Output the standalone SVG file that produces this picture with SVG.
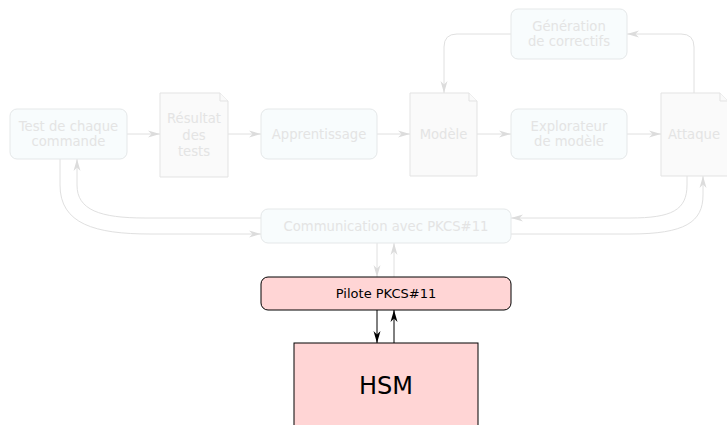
<svg xmlns="http://www.w3.org/2000/svg" width="727" height="425" viewBox="0 0 727 425">
  <style>
    text { font-family: "DejaVu Sans", "Liberation Sans", sans-serif; text-anchor: middle; }
    .faded { fill: #f8fcfd; stroke: #e5e8e9; stroke-width: 1; }
    .doc { fill: #fafafa; stroke: #e3e3e3; stroke-width: 1; }
    .ftext { font-size: 13.2px; fill: #e4e4e4; }
    .fline { fill: none; stroke: #e0e0e0; stroke-width: 1; }
    .active { fill: #ffd5d5; stroke: #000; stroke-width: 1; }
    .atext { fill: #000; }
    .aline { fill: none; stroke: #000; stroke-width: 1; }
  </style>
  <defs>
    <marker id="arrowFaded" viewBox="0 0 12 8" refX="12" refY="4" markerWidth="12" markerHeight="8" markerUnits="userSpaceOnUse" orient="auto">
      <path d="M0,0.5 L12,4 L0,7.5 L3.5,4 z" fill="#dcdcdc"/>
    </marker>
    <marker id="arrowDark" viewBox="0 0 12 8" refX="12" refY="4" markerWidth="12" markerHeight="8" markerUnits="userSpaceOnUse" orient="auto">
      <path d="M0,0.5 L12,4 L0,7.5 L3.5,4 z" fill="#000"/>
    </marker>
  </defs>

  <!-- connectors -->
  <g id="connectors">
    <path class="fline" marker-end="url(#arrowFaded)" d="M127,134 H160"/>
    <path class="fline" marker-end="url(#arrowFaded)" d="M228,134 H261"/>
    <path class="fline" marker-end="url(#arrowFaded)" d="M377,134 H410"/>
    <path class="fline" marker-end="url(#arrowFaded)" d="M477,134 H511"/>
    <path class="fline" marker-end="url(#arrowFaded)" d="M627,134 H661"/>
    <path class="fline" marker-end="url(#arrowFaded)" d="M511,34 H457 Q444,34 444,47 V93"/>
    <path class="fline" marker-end="url(#arrowFaded)" d="M694,93 V47 Q694,34 681,34 H627"/>
    <path class="fline" marker-end="url(#arrowFaded)" d="M60,159 V185 C60,224 95,234 150,234 H261"/>
    <path class="fline" marker-end="url(#arrowFaded)" d="M261,218 H145 C100,218 77,210 77,185 V159"/>
    <path class="fline" marker-end="url(#arrowFaded)" d="M687,176 V185 C687,210 672,218 630,218 H511"/>
    <path class="fline" marker-end="url(#arrowFaded)" d="M511,234 H630 C685,234 703,222 703,195 V176"/>
    <path class="fline" marker-end="url(#arrowFaded)" d="M377,243 V277"/>
    <path class="fline" marker-end="url(#arrowFaded)" d="M394,277 V243"/>
    <path class="aline" marker-end="url(#arrowDark)" d="M377,310 V343"/>
    <path class="aline" marker-end="url(#arrowDark)" d="M394,343 V310"/>
  </g>

  <g id="test">
    <rect class="faded" x="10" y="109" width="117" height="50" rx="7"/>
    <text class="ftext" x="68.5" y="131">Test de chaque</text>
    <text class="ftext" x="68.5" y="146">commande</text>
  </g>

  <g id="resultat">
    <path class="doc" d="M160,93 H220 L228,101 V177 H160 Z"/>
    <path class="doc" d="M220,93 V101 H228"/>
    <text class="ftext" x="194" y="123">Résultat</text>
    <text class="ftext" x="194" y="139.5">des</text>
    <text class="ftext" x="194" y="156">tests</text>
  </g>

  <g id="apprentissage">
    <rect class="faded" x="261" y="109" width="116" height="50" rx="7"/>
    <text class="ftext" x="319" y="138.5">Apprentissage</text>
  </g>

  <g id="modele">
    <path class="doc" d="M410,93 H469 L477,101 V176 H410 Z"/>
    <path class="doc" d="M469,93 V101 H477"/>
    <text class="ftext" x="443.5" y="139">Modèle</text>
  </g>

  <g id="generation">
    <rect class="faded" x="511" y="9" width="116" height="50" rx="7"/>
    <text class="ftext" x="569" y="30.5">Génération</text>
    <text class="ftext" x="569" y="46">de correctifs</text>
  </g>

  <g id="explorateur">
    <rect class="faded" x="511" y="109" width="116" height="50" rx="7"/>
    <text class="ftext" x="569" y="131">Explorateur</text>
    <text class="ftext" x="569" y="146">de modèle</text>
  </g>

  <g id="attaque">
    <path class="doc" d="M661,93 H720 L728,101 V176 H661 Z"/>
    <path class="doc" d="M720,93 V101 H728"/>
    <text class="ftext" x="694" y="139">Attaque</text>
  </g>

  <g id="communication">
    <rect class="faded" x="261" y="209" width="250" height="34" rx="7"/>
    <text class="ftext" x="386" y="231">Communication avec PKCS#11</text>
  </g>

  <g id="pilote">
    <rect class="active" x="261" y="277" width="250" height="33" rx="7"/>
    <text class="atext" x="386" y="298" font-size="13">Pilote PKCS#11</text>
  </g>

  <g id="hsm">
    <rect class="active" x="294" y="343" width="184" height="100"/>
    <text class="atext" x="386" y="394" font-size="24">HSM</text>
  </g>
</svg>
